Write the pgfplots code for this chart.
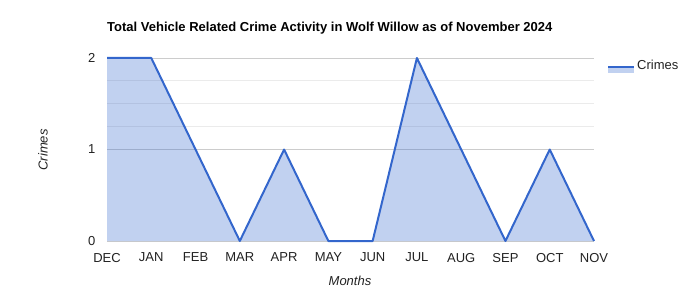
\documentclass[border=0pt]{standalone}
\usepackage{pgfplots}
\pgfplotsset{compat=1.18}
\usepackage{fontspec}
\setmainfont{Liberation Sans}
\definecolor{gline}{HTML}{3366CC}
\definecolor{tick}{HTML}{222222}
\begin{document}
\fontsize{13}{15}\selectfont
\begin{tikzpicture}
\useasboundingbox (0pt,0pt) rectangle (700pt,300pt);
\begin{axis}[
  at={(107pt,59pt)}, anchor=south west, scale only axis,
  width=487pt, height=183pt,
  xmin=0, xmax=11, ymin=0, ymax=2,
  xtick={0,...,11},
  xticklabels={DEC,JAN,FEB,MAR,APR,MAY,JUN,JUL,AUG,SEP,OCT,NOV},
  ytick={1,2},
  extra y ticks={0},
  extra y tick style={grid style={color=black!80, line width=1pt}},
  minor y tick num=3,
  ymajorgrids, yminorgrids,
  major grid style={color=black!20, line width=0.8pt},
  minor grid style={color=black!8, line width=0.8pt},
  axis line style={draw=none},
  major tick length=0pt, minor tick length=0pt,
  tick label style={font=\fontsize{13}{15}\selectfont, text=tick},
  xticklabel style={yshift=-7.5pt},
  yticklabel style={xshift=-7pt},
  /pgf/number format/assume math mode=true,
  legend style={at={(1,1)}, anchor=north west, xshift=13pt, yshift=0pt,
    draw=none, fill=none, font=\fontsize{13}{15}\selectfont, text=tick,
    inner sep=0pt, row sep=0pt, nodes={inner sep=2pt}},
  legend cell align=left,
  clip=false,
]
\addplot[draw=none, fill=gline, fill opacity=0.3, forget plot] coordinates {
 (0,2) (1,2) (2,1) (3,0) (4,1) (5,0) (6,0) (7,2) (8,1) (9,0) (10,1) (11,0)
} \closedcycle;
\addplot[gline, line width=2pt, line join=round,
  legend image code/.code={
    \path[fill=gline, fill opacity=0.3, draw=none] (0pt,-7pt) rectangle (26pt,-1pt);
    \path[draw=gline, line width=2pt] (0pt,-1pt) -- (26pt,-1pt);
  }] coordinates {
 (0,2) (1,2) (2,1) (3,0) (4,1) (5,0) (6,0) (7,2) (8,1) (9,0) (10,1) (11,0)
};
\addlegendentry{Crimes}
\end{axis}
\node[anchor=west, inner sep=0pt, font=\bfseries\fontsize{13}{15}\selectfont, text=black] at (107pt,272pt) {Total Vehicle Related Crime Activity in Wolf Willow as of November 2024};
\node[font=\itshape\fontsize{13}{15}\selectfont, text=tick] at (350pt,19pt) {Months};
\node[font=\itshape\fontsize{13}{15}\selectfont, text=tick, rotate=90] at (43pt,150pt) {Crimes};
\end{tikzpicture}
\end{document}
